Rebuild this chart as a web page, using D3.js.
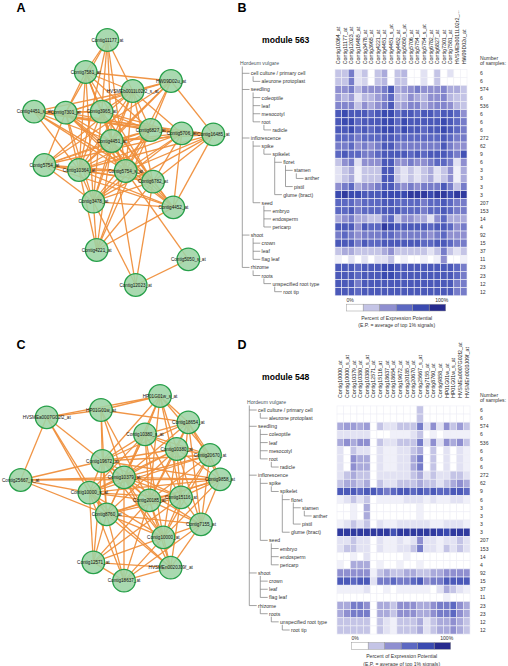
<!DOCTYPE html>
<html><head><meta charset="utf-8">
<script src="https://cdn.jsdelivr.net/npm/d3@7"></script>
<style>body{margin:0;background:#fff}svg{display:block;font-family:"Liberation Sans",Arial,sans-serif}</style>
</head><body><svg id="c" width="508" height="666"></svg>
<script>
// ---------- DATA ----------
const tissues = ["cell culture / primary cell","aleurone protoplast","seedling","coleoptile","leaf","mesocotyl","root","radicle","inflorescence","spike","spikelet","floret","stamen","anther","pistil","glume (bract)","seed","embryo","endosperm","pericarp","shoot","crown","leaf","flag leaf","rhizome","roots","unspecified root type","root tip"];
const tissueDepth = [1,2,1,2,2,2,2,3,1,2,3,4,5,6,5,4,2,3,3,3,1,2,2,2,1,2,3,4];
const sampleCounts = [6,6,574,6,536,6,6,6,272,62,9,6,3,3,3,3,207,153,14,4,92,15,37,11,23,23,12,12];

const probesB = ["Contig10364_at","Contig11177_at","Contig12023_at","Contig16485_at","Contig3478_at","Contig3965_at","Contig4221_at","Contig4451_at","Contig4451_s_at","Contig4452_at","Contig5050_s_at","Contig5706_at","Contig5754_at","Contig5754_s_at","Contig6782_at","Contig6827_at","Contig7301_at","Contig7581_at","HVSMEb0011L02r2_...","HW09D02u_at"];
const valuesB = [
[20,20,50,10,20,0,20,30,0,20,25,0,0,10,0,20,0,10,0,0],
[20,20,50,10,15,0,20,25,0,20,20,0,0,10,0,20,0,0,0,0],
[40,40,50,25,40,40,40,50,70,30,35,40,50,40,40,40,45,30,30,20],
[35,25,35,10,25,25,35,45,60,25,25,40,30,25,40,40,45,25,20,20],
[45,45,45,20,40,30,40,50,70,30,35,45,45,30,40,45,45,40,25,20],
[70,80,70,70,70,60,70,80,80,60,70,70,60,70,70,60,70,70,60,40],
[70,80,80,60,70,70,70,80,80,60,80,70,70,70,70,70,80,70,60,50],
[70,70,80,60,70,60,70,80,80,60,80,70,70,60,70,70,80,70,60,50],
[60,60,60,50,60,60,60,70,70,60,60,60,60,60,60,60,70,60,50,50],
[50,50,60,40,50,40,50,70,70,50,50,50,50,50,50,50,70,50,40,40],
[60,70,60,60,50,50,60,70,70,70,70,60,70,60,70,70,70,60,50,75],
[20,40,50,10,40,40,40,70,70,40,40,50,40,40,50,60,60,50,10,40],
[10,20,30,5,20,20,20,70,70,20,10,20,10,20,30,10,20,40,5,30],
[10,20,30,5,20,20,20,70,70,20,10,20,10,20,30,10,20,40,5,30],
[40,50,60,30,40,40,50,70,70,50,40,50,40,50,50,50,70,50,20,50],
[80,90,80,80,70,70,70,80,80,80,80,90,90,90,80,90,90,80,90,90],
[60,60,60,50,60,60,60,70,70,60,60,60,60,50,60,60,70,60,50,50],
[60,60,70,50,60,60,60,70,70,70,60,60,60,50,60,60,70,60,50,50],
[30,40,50,30,30,20,20,50,60,20,40,40,30,30,10,40,60,30,30,30],
[70,70,70,40,70,60,60,90,80,70,70,70,70,70,60,70,70,60,40,50],
[50,60,50,40,50,50,50,60,60,50,50,50,50,50,40,50,60,40,40,40],
[70,70,70,50,70,60,60,70,70,70,70,70,70,60,60,70,70,60,50,50],
[20,30,30,20,20,20,20,30,40,20,20,20,20,20,10,20,50,20,10,20],
[5,0,10,0,10,0,10,10,20,0,5,0,0,5,0,5,40,0,0,5],
[70,70,70,60,70,70,70,80,80,70,70,70,70,70,70,70,70,70,60,50],
[70,70,70,60,70,70,70,80,80,70,70,70,70,70,70,70,70,70,60,50],
[70,70,70,50,70,70,70,70,70,70,70,70,70,70,70,70,70,70,50,50],
[70,70,70,60,70,70,70,70,70,70,70,70,70,70,70,70,70,70,50,50]];

const probesD = ["Contig10000_at","Contig10000_s_at","Contig10379_at","Contig10380_at","Contig10380_s_at","Contig12571_at","Contig15116_at","Contig18637_at","Contig18654_at","Contig19672_at","Contig20185_at","Contig20670_at","Contig25667_s_at","Contig7155_at","Contig8760_at","Contig9858_at","HP01G01w_at","HP01G01w_s_at","HVSMEa0007G02f2_at","HVSMEn0020J09f_at"];
const valuesD = [
[0,0,0,0,0,0,0,0,0,0,0,0,20,0,0,0,0,0,0,0],
[0,0,0,0,0,0,0,0,0,0,0,0,20,0,0,0,0,0,0,0],
[30,35,35,30,35,0,20,10,10,20,20,20,50,10,40,10,40,20,35,20],
[10,10,10,10,10,0,0,0,5,5,5,10,20,0,5,0,5,5,5,5],
[30,40,30,40,40,0,20,10,10,20,20,20,50,10,40,10,40,30,40,20],
[10,0,20,10,10,0,10,5,5,10,10,20,30,0,20,0,10,0,10,5],
[10,0,40,30,30,0,10,5,5,10,10,30,50,0,20,0,10,0,10,5],
[10,0,40,30,30,0,10,5,5,10,10,30,50,0,20,0,10,0,10,5],
[10,20,30,20,20,0,10,10,10,10,10,20,30,10,20,10,10,20,20,10],
[20,30,30,20,30,0,20,10,10,20,20,20,30,20,20,10,20,30,40,30],
[70,70,70,60,70,70,60,50,60,70,70,60,70,60,70,60,60,70,70,60],
[5,10,20,10,20,0,5,5,5,5,10,10,10,5,10,5,5,10,10,5],
[0,0,5,0,30,0,0,0,0,0,0,0,5,0,0,0,0,0,0,0],
[0,0,5,0,30,0,0,0,0,0,0,0,5,0,0,0,0,0,0,0],
[5,10,20,10,20,0,10,5,5,10,10,10,10,10,5,5,10,10,10,5],
[90,90,90,90,90,90,90,90,75,90,90,90,90,90,90,85,80,90,90,90],
[10,10,20,10,10,0,10,5,5,10,5,10,40,10,10,5,10,10,20,10],
[10,20,20,10,10,0,10,5,5,10,10,20,50,10,10,5,20,10,20,10],
[0,0,5,0,10,0,0,0,0,0,5,0,0,0,0,0,0,0,0,0],
[5,0,30,30,30,0,5,0,0,5,0,0,5,0,0,0,0,0,0,0],
[40,40,40,40,40,5,20,30,20,20,30,30,20,20,30,30,40,40,40,40],
[70,70,60,70,70,10,50,50,60,50,50,60,70,40,50,50,70,70,70,70],
[5,5,5,5,10,0,0,5,0,5,5,5,5,5,0,10,30,20,10,5],
[0,0,0,0,0,0,0,0,0,0,0,0,0,0,0,0,5,0,0,0],
[30,30,50,50,40,0,30,30,20,40,40,40,30,30,40,50,50,60,40,30],
[30,40,50,50,50,0,30,30,20,40,40,40,30,30,40,50,50,60,40,30],
[20,20,20,20,20,0,20,10,5,20,20,20,30,10,20,30,30,40,30,20],
[20,20,20,20,20,0,20,10,5,20,20,20,30,10,20,30,30,40,30,20]];

const legendStops = [0,20,40,60,80,100];

// network A (module 563): names, layout coordinates (layout units), edges
const nodesA = ["Contig11177_at","Contig7581_at","HW09D02u_at","HVSMEb0011L02r2_s_at","Contig4451_s_at","Contig7301_at","Contig3965_at","Contig6827_at","Contig5706_at","Contig16485_at","Contig4451_at","Contig5754_at","Contig10364_at","Contig5754_s_at","Contig6782_at","Contig3478_at","Contig4452_at","Contig4221_at","Contig5050_s_at","Contig12023_at"];
const layoutA = [[32.2,12.0],[25.7,21.6],[51.3,24.3],[39.8,27.3],[10.2,33.5],[19.7,33.8],[30.5,33.5],[45.2,39.0],[54.5,40.0],[64.0,40.3],[33.5,42.3],[13.3,49.5],[23.7,51.0],[37.7,51.3],[45.9,54.5],[28.0,60.5],[52.0,62.2],[29.0,75.0],[56.5,77.8],[40.7,85.5]];
const edgesA = [[0,1],[0,3],[0,5],[0,6],[0,10],[0,13],[0,12],
[1,2],[1,3],[1,5],[1,6],[1,10],[1,12],[1,13],[1,14],[1,7],[1,15],
[2,3],[2,5],[2,10],[2,9],[2,12],[2,13],[2,7],[2,11],
[3,4],[3,5],[3,6],[3,7],[3,8],[3,10],[3,12],[3,13],[3,14],[3,15],[3,11],
[4,5],[4,6],[4,7],[4,8],[4,10],[4,12],[4,13],[4,14],[4,9],
[5,6],[5,10],[5,12],[5,13],[5,14],[5,15],[5,16],[5,11],[5,8],
[6,7],[6,10],[6,12],[6,13],[6,14],[6,15],[6,8],[6,16],
[7,8],[7,10],[7,11],[7,12],[7,13],[7,15],[7,9],[7,17],
[8,9],[8,10],[8,12],[8,13],[8,14],[8,15],[8,16],[8,11],
[9,10],[9,12],[9,13],[9,14],[9,16],[9,15],
[10,11],[10,12],[10,13],[10,14],[10,15],[10,16],[10,17],[10,19],
[11,12],[11,13],[11,15],[11,14],[11,16],
[12,13],[12,14],[12,15],[12,16],[12,17],
[13,14],[13,15],[13,16],[13,17],[13,18],
[14,15],[14,16],[14,17],[14,19],
[15,16],[15,17],[15,19],[16,17],[18,19]];

// network C (module 548)
const nodesC = ["HVSMEa0007G02f2_at","HP01G01w_at","HP01G01w_s_at","Contig18654_at","Contig10380_s_at","Contig10380_at","Contig20670_at","Contig19672_at","Contig25667_s_at","Contig10379_at","Contig9858_at","Contig10000_s_at","Contig20185_at","Contig15116_at","Contig8760_at","Contig7155_at","Contig10000_at","Contig12571_at","HVSMEn0020J09f_at","Contig18637_at"];
const layoutC = [[14.0,26.2],[30.3,24.0],[48.0,19.8],[56.5,27.7],[43.5,31.3],[53.0,35.7],[63.0,37.5],[30.7,39.3],[6.2,45.0],[37.2,44.2],[66.0,44.8],[26.8,48.8],[44.8,51.1],[54.3,50.2],[32.0,55.3],[60.3,58.3],[49.0,62.2],[28.0,69.7],[51.2,71.3],[37.2,75.2]];
const edgesC = [[0,1],[0,2],[0,8],[0,7],[0,11],[0,14],
[1,2],[1,3],[1,7],[1,9],[1,14],[1,12],
[2,3],[2,4],[2,5],[2,7],[2,9],[2,12],[2,13],[2,6],
[8,9],[8,10],[8,11],[8,7],[8,14],
[3,4],[3,5],[3,6],[3,7],[3,9],[3,10],[3,12],[3,13],[3,15],
[4,5],[4,6],[4,7],[4,9],[4,11],[4,12],[4,13],[4,14],[4,16],
[5,6],[5,7],[5,9],[5,10],[5,11],[5,12],[5,13],[5,15],[5,16],[5,14],
[6,7],[6,9],[6,10],[6,12],[6,13],[6,15],[6,16],[6,11],
[7,9],[7,10],[7,11],[7,12],[7,13],[7,14],[7,16],[7,17],
[9,10],[9,11],[9,12],[9,13],[9,14],[9,15],[9,16],[9,18],[9,19],
[10,11],[10,12],[10,13],[10,15],[10,16],[10,14],
[11,12],[11,13],[11,14],[11,16],[11,17],[11,19],[11,18],
[12,13],[12,14],[12,15],[12,16],[12,17],[12,18],[12,19],
[13,14],[13,15],[13,16],[13,18],[13,17],
[14,15],[14,16],[14,17],[14,18],[14,19],
[15,16],[15,18],[15,19],[16,17],[16,18],[16,19],[17,18],[17,19],[18,19]];

// ---------- DRAW ----------
const svg = d3.select("#c");
const color = d3.scaleLinear().domain(legendStops)
  .range(["#ffffff","#c4c4e6","#8f8fd0","#5c68c2","#3a4ab0","#262a8e"]);

function panelLetter(t,x,y){
  svg.append("text").attr("x",x).attr("y",y).attr("text-anchor","middle")
    .attr("dominant-baseline","central").attr("font-size",12.5).attr("font-weight","bold").text(t);
}
panelLetter("A",21,8); panelLetter("B",242,8);
panelLetter("C",21,345); panelLetter("D",242,345);

function drawNet(nodes, layout, edges, yRange){
  const g = svg.append("g");
  const x = d3.scaleLinear().domain([0,75]).range([0,250]);
  const y = d3.scaleLinear().domain([0,90]).range(yRange);
  g.selectAll("line").data(edges).join("line")
    .attr("x1",d=>x(layout[d[0]][0])).attr("y1",d=>y(layout[d[0]][1]))
    .attr("x2",d=>x(layout[d[1]][0])).attr("y2",d=>y(layout[d[1]][1]))
    .attr("stroke","#ef8f3c").attr("stroke-width",1.3).attr("stroke-opacity",0.95);
  const n = g.selectAll("g.n").data(nodes).join("g")
    .attr("transform",(d,i)=>`translate(${x(layout[i][0])},${y(layout[i][1])})`);
  n.append("circle").attr("r",11.3).attr("fill","#9dd4a5").attr("fill-opacity",0.88)
    .attr("stroke","#27a04a").attr("stroke-width",1.3);
  n.append("text").attr("text-anchor","middle").attr("dominant-baseline","central")
    .attr("font-size",4.6).attr("fill","#111").text(d=>d);
}
drawNet(nodesA, layoutA, edgesA, [0,300]);
drawNet(nodesC, layoutC, edgesC, [330,630]);

function drawHeat(o){
  const g = svg.append("g");
  const n = tissues.length;
  const y = d3.scalePoint().domain(d3.range(n)).range([o.y0, o.y1]);
  const pitch = y.step();
  const x = d3.scaleBand().domain(o.probes).range([o.gx0,o.gx1]);
  // title
  g.append("text").attr("x",262).attr("y",o.y0-33.3).attr("dominant-baseline","central")
    .attr("font-size",8.6).attr("font-weight","bold").text(o.title);
  // cells
  o.values.forEach((row,i)=>{
    g.selectAll(null).data(row).join("rect")
      .attr("x",(d,j)=>x(o.probes[j])).attr("y",y(i)-pitch/2)
      .attr("width",x.bandwidth()).attr("height",pitch)
      .attr("fill",d=>color(d)).attr("stroke","#eeeef6").attr("stroke-width",0.6);
  });
  // column labels
  g.selectAll("text.col").data(o.probes).join("text")
    .attr("transform",d=>`translate(${x(d)+x.bandwidth()/2+1.9},${o.y0-o.colGap}) rotate(-90)`)
    .attr("text-anchor","start").attr("font-size",5.3).attr("fill","#222").text(d=>d);
  // tree
  const tx = d => o.L0 + d*o.indent;
  g.append("text").attr("x",o.L0).attr("y",o.y0-o.rootGap).attr("dominant-baseline","central")
    .attr("font-size",5.1).attr("fill","#4a5660").text("Hordeum vulgare");
  const lineCol = "#7a7a7a";
  for(let i=0;i<n;i++){
    const d = tissueDepth[i];
    let p=-1; for(let k=i-1;k>=0;k--){ if(tissueDepth[k]===d-1){p=k;break;} }
    const vx = tx(d-1)+2.3;
    g.append("line").attr("x1",vx).attr("x2",tx(d)-1.3).attr("y1",y(i)).attr("y2",y(i))
      .attr("stroke",lineCol).attr("stroke-width",0.7);
    // last child?
    let last=true;
    for(let k=i+1;k<n;k++){ if(tissueDepth[k]<d) break; if(tissueDepth[k]===d){last=false;break;} }
    if(last){
      const ys = p<0 ? o.y0-o.rootGap+3.5 : y(p)+3;
      g.append("line").attr("x1",vx).attr("x2",vx).attr("y1",ys).attr("y2",y(i))
        .attr("stroke",lineCol).attr("stroke-width",0.7);
    }
    g.append("text").attr("x",tx(d)).attr("y",y(i)).attr("dominant-baseline","central")
      .attr("font-size",5.1).attr("fill","#333").text(tissues[i]);
    g.append("text").attr("x",480).attr("y",y(i)).attr("dominant-baseline","central")
      .attr("font-size",5.1).attr("fill","#333").text(sampleCounts[i]);
  }
  g.append("text").attr("x",480).attr("y",o.y0-15).attr("dominant-baseline","central")
    .attr("font-size",5.1).attr("fill","#333").text("Number");
  g.append("text").attr("x",480).attr("y",o.y0-10.5).attr("dominant-baseline","central")
    .attr("font-size",5.1).attr("fill","#333").text("of samples:");
  // legend
  const lx = d3.scaleBand().domain(legendStops).range([o.lx0,o.lx0+99]);
  const yl = o.y1;
  g.selectAll("rect.lg").data(legendStops).join("rect")
    .attr("x",d=>lx(d)).attr("y",yl+12.5).attr("width",lx.bandwidth()).attr("height",6.8)
    .attr("fill",d=>color(d)).attr("stroke","#9a9a9a").attr("stroke-width",0.5);
  g.append("text").attr("x",o.lx0+3.5).attr("y",yl+8.3).attr("text-anchor","middle").attr("dominant-baseline","central")
    .attr("font-size",5.1).attr("fill","#333").text("0%");
  g.append("text").attr("x",o.lx0+95).attr("y",yl+8.3).attr("text-anchor","middle").attr("dominant-baseline","central")
    .attr("font-size",5.1).attr("fill","#333").text("100%");
  g.append("text").attr("x",o.lx0+50).attr("y",yl+26).attr("text-anchor","middle").attr("dominant-baseline","central")
    .attr("font-size",5.1).attr("fill","#333").text("Percent of Expression Potential");
  g.append("text").attr("x",o.lx0+50).attr("y",yl+33.5).attr("text-anchor","middle").attr("dominant-baseline","central")
    .attr("font-size",5.1).attr("fill","#333").text("(E.P. = average of top 1% signals)");
}

drawHeat({title:"module 563", probes:probesB, values:valuesB, y0:73.3, y1:291.7, gx0:335, gx1:467,
  L0:240, indent:10.8, rootGap:10.3, colGap:9, lx0:346.7});
drawHeat({title:"module 548", probes:probesD, values:valuesD, y0:410, y1:630, gx0:337, gx1:470,
  L0:247, indent:11, rootGap:8, colGap:12, lx0:351.7});
</script></body></html>
